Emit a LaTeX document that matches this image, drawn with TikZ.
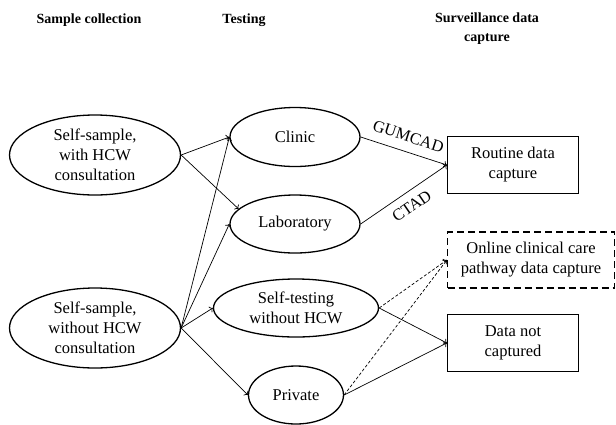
\documentclass[tikz,border=0pt]{standalone}
\usepackage{fontspec}
\setmainfont{Liberation Serif}
\usetikzlibrary{positioning,shapes.geometric,arrows.meta}

\tikzset{
  stage/.style={ellipse, draw, line width=1.3pt, inner sep=0pt},
  capbox/.style={draw, line width=1.3pt, minimum width=131pt, minimum height=57pt, align=center},
  flow/.style={->, line width=0.7pt},
  maybe/.style={->, line width=0.7pt, dash pattern=on 3pt off 2pt},
  head/.style={font=\fontsize{14}{19}\selectfont\bfseries, align=center}
}

\begin{document}
\begin{tikzpicture}[x=1pt, y=-1pt, font=\fontsize{16.5}{20}\selectfont]

    \useasboundingbox (0,0) rectangle (616,424);

    % Column headings
    \node[head] (hcol) at (89,20) {Sample collection};
    \node[head] (htest) at (244,20) {Testing};
    \node[head] (hsurv) at (487,29) {Surveillance data\\capture};

    % Sample collection
    \node[stage, minimum width=171pt, minimum height=80pt,
      label={[align=center]center:Self-sample,\\with HCW\\consultation}] (withhcw) at (95,155) {};
    \node[stage, minimum width=171pt, minimum height=80pt,
      label={[align=center]center:Self-sample,\\without HCW\\consultation}] (nohcw) at (95,328) {};

    % Testing
    \node[stage, minimum width=130pt, minimum height=59pt,
      label={center:Clinic}] (clinic) at (295,137) {};
    \node[stage, minimum width=130pt, minimum height=58pt,
      label={center:Laboratory}] (lab) at (295,224) {};
    \node[stage, minimum width=165pt, minimum height=58pt,
      label={[align=center]center:Self-testing\\without HCW}] (selftest) at (296,308) {};
    \node[stage, minimum width=95pt, minimum height=58pt,
      label={center:Private}] (private) at (296,395) {};

    % Surveillance data capture
    \node[capbox] (routine) at (513,165) {Routine data\\capture};
    \node[capbox, minimum width=167pt, minimum height=56pt,
      dash pattern=on 7pt off 4pt] (online) at (531,260) {Online clinical care\\pathway data capture};
    \node[capbox] (notcap) at (513,343) {Data not\\captured};

    % Sample collection to testing
    \draw[flow] (withhcw.east) -- (clinic.west);
    \draw[flow] (withhcw.east) -- (lab.165);
    \draw[flow] (nohcw.east) -- (clinic.west);
    \draw[flow] (nohcw.east) -- (lab.west);
    \draw[flow] (nohcw.east) -- (selftest.west);
    \draw[flow] (nohcw.east) -- (private.west);

    % Testing to data capture
    \draw[flow] (clinic.east) -- (routine.west)
      node[midway, sloped, above=6pt] {GUMCAD};
    \draw[flow] (lab.east) -- (routine.west)
      node[midway, sloped, below=5pt] {CTAD};
    \draw[maybe] (selftest.east) -- (online.west);
    \draw[flow] (selftest.east) -- (notcap.west);
    \draw[maybe] (private.east) -- (online.west);
    \draw[flow] (private.east) -- (notcap.west);

\end{tikzpicture}
\end{document}
